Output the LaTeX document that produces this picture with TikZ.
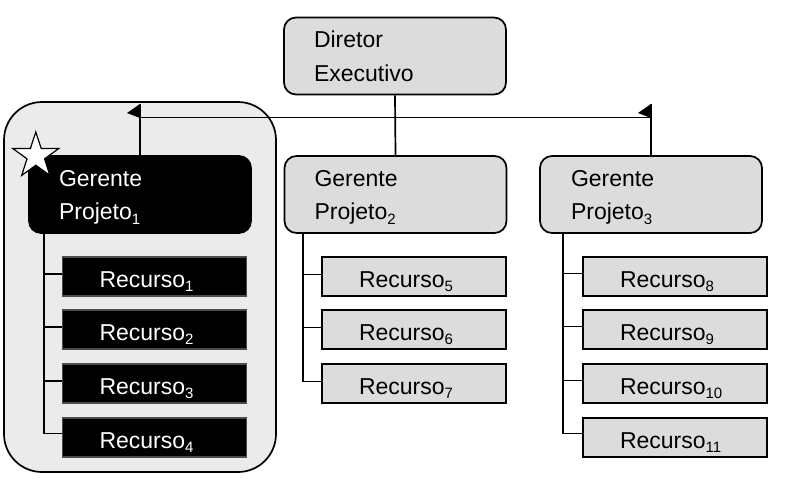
\documentclass[tikz,border=0pt]{standalone}
\usepackage{fontspec}
\setmainfont{Liberation Sans}
\usetikzlibrary{shapes.geometric,calc}
\definecolor{boxgray}{HTML}{DCDCDC}
\definecolor{panelgray}{HTML}{EBEBEB}
\newcommand{\subtxt}[1]{\raisebox{-4.5pt}{\fontsize{15}{16}\selectfont #1}}
\begin{document}
\begin{tikzpicture}[x=1pt,y=-1pt,line width=1.7pt,
  font=\fontsize{23}{27}\selectfont,
  mgr/.style={draw,fill=boxgray,rounded corners=12pt,inner sep=0pt,minimum width=222pt,minimum height=77pt},
  mgrblack/.style={mgr,fill=black},
  res/.style={draw,fill=boxgray,inner sep=0pt,minimum width=184pt,minimum height=39.5pt},
  resblack/.style={res,fill=black,draw=black!70},
  txt/.style={anchor=base west,inner sep=0pt},
  wtxt/.style={txt,text=white},
  link/.style={line width=1.7pt}]
\useasboundingbox (0,0) rectangle (788,480);

% panel of project 1
\node[draw,fill=panelgray,rounded corners=38pt,inner sep=0pt,minimum width=272pt,minimum height=370pt] (panel) at (140,287) {};

% boxes
\node[mgr] (dir) at (395,56) {};
\node[mgrblack] (g1) at (140,194.5) {};
\node[mgr] (g2) at (395.5,194.5) {};
\node[mgr] (g3) at (651,194.5) {};

\node[resblack] (r1) at (154.5,276.5) {};
\node[resblack] (r2) at (154.5,329.5) {};
\node[resblack] (r3) at (154.5,383.5) {};
\node[resblack] (r4) at (154.5,437.5) {};
\node[res] (r5) at (414,276.5) {};
\node[res] (r6) at (414,329.5) {};
\node[res] (r7) at (414,383.5) {};
\node[res] (r8) at (675,276.5) {};
\node[res] (r9) at (675,329.5) {};
\node[res] (r10) at (675,383.5) {};
\node[res] (r11) at (675,437.5) {};

% texts
\node[txt] (tdir1) at ($(dir.north west)+(30,31)$) {Diretor};
\node[txt] (tdir2) at ($(dir.north west)+(30,64.5)$) {Executivo};
\node[wtxt] (tg1a) at ($(g1.north west)+(30,31)$) {Gerente};
\node[wtxt] (tg1b) at ($(g1.north west)+(30,64.5)$) {Projeto\subtxt{1}};
\node[txt] (tg2a) at ($(g2.north west)+(30,31)$) {Gerente};
\node[txt] (tg2b) at ($(g2.north west)+(30,64.5)$) {Projeto\subtxt{2}};
\node[txt] (tg3a) at ($(g3.north west)+(31,31)$) {Gerente};
\node[txt] (tg3b) at ($(g3.north west)+(31,64.5)$) {Projeto\subtxt{3}};

\foreach \r/\n in {r1/1,r2/2,r3/3,r4/4}
  \node[wtxt] (t\r) at ($(\r.west)+(37,10.5)$) {Recurso\subtxt{\n}};
\foreach \r/\n in {r5/5,r6/6,r7/7,r8/8,r9/9,r10/10,r11/11}
  \node[txt] (t\r) at ($(\r.west)+(37,10.5)$) {Recurso\subtxt{\n}};

% star
\node[star,star points=5,star point ratio=2.6,minimum size=48pt,inner sep=0pt,draw,fill=white,line width=1.2pt] (star) at (35.8,156) {};

% top connectors
\coordinate (a1) at (g1.north |- 0,104);
\coordinate (a3) at (g3.north |- 0,104);
\coordinate (h1) at (g1.north |- 0,117.5);
\coordinate (h3) at (g3.north |- 0,117.5);
\draw[link] (dir.south) -- (g2.north);
\draw[link] (g1.north) -- (a1);
\draw[link] (g3.north) -- (a3);
\draw[link] (h1) -- (h3);
\fill (a1) -- ++(-13,9) -- ++(13,5) -- cycle;
\fill (a3) -- ++(-13,9) -- ++(13,5) -- cycle;

% resource connectors
\draw[link] (g1.south -| 44,0) |- ([yshift=4pt]r4.west);
\foreach \r in {r1,r2,r3} \draw[link] ([yshift=2.5pt]\r.west) -- ++(-18,0);
\draw[link] (g2.south -| 303,0) |- ([yshift=2pt]r7.west);
\foreach \r in {r5,r6} \draw[link] ([yshift=2pt]\r.west) -- ++(-19,0);
\draw[link] (g3.south -| 563,0) |- ([yshift=4pt]r11.west);
\foreach \r in {r8,r9,r10} \draw[link] ([yshift=3pt]\r.west) -- ++(-20,0);
\end{tikzpicture}
\end{document}
